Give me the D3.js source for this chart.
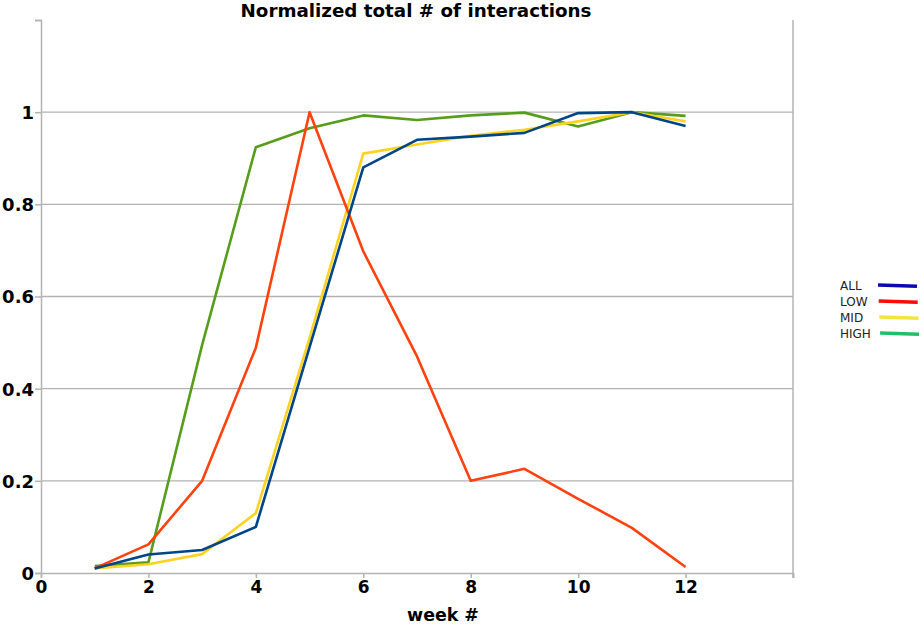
<!DOCTYPE html>
<html>
<head>
<meta charset="utf-8">
<script src="https://cdn.jsdelivr.net/npm/d3@7"></script>
<style>
	body { margin: 0; background: #fff; }
	text { font-family: "DejaVu Sans", sans-serif; }
	.tick_lbl { font-weight: bold; fill: #000; }
</style>
</head>
<body>
<div id="chart"></div>
<script>
var weeks = [1, 2, 3, 4, 5, 6, 7, 8, 9, 10, 11, 12]
var all_vals  = [0.01, 0.04, 0.05, 0.10, 0.49, 0.88, 0.94, 0.947, 0.955, 0.998, 1.0, 0.97]
var low_vals  = [0.01, 0.062, 0.2, 0.489, 1.0, 0.698, 0.47, 0.2, 0.226, 0.161, 0.098, 0.013]
var mid_vals  = [0.01, 0.019, 0.041, 0.13, 0.51, 0.91, 0.93, 0.949, 0.962, 0.98, 1.0, 0.98]
var high_vals = [0.015, 0.023, 0.495, 0.924, 0.965, 0.993, 0.983, 0.993, 0.999, 0.969, 1.0, 0.992]
var x_ticks = [0, 2, 4, 6, 8, 10, 12]
var y_ticks = [0, 0.2, 0.4, 0.6, 0.8, 1]

// drawing order: high, mid, low, all
var series = [
	{ name: "HIGH", vals: high_vals, color: "#579d1c", legend: "#22c064" },
	{ name: "MID",  vals: mid_vals,  color: "#ffd320", legend: "#f3e53c" },
	{ name: "LOW",  vals: low_vals,  color: "#ff420e", legend: "#ff0a0a" },
	{ name: "ALL",  vals: all_vals,  color: "#004586", legend: "#0a0ab4" }
]
var legend_order = ["ALL", "LOW", "MID", "HIGH"]

var margin = {top: 20, left: 41},
    width = 793 - 41,
    height = 573 - 20

var svg = d3.select("#chart")
	.append("svg")
	.attr("width", 921)
	.attr("height", 627)

var g = svg.append("g")
	.attr("transform", "translate(" + margin.left + "," + margin.top + ")")

var x_scale = d3.scaleLinear().range([0, width]).domain([0, 14])
var y_scale = d3.scaleLinear().range([height, 0]).domain([0, 1.2])

// grid
g.selectAll(".grid")
	.data(y_ticks.filter(d => d > 0))
	.enter().append("line")
	.attr("x1", 0).attr("x2", width)
	.attr("y1", d => y_scale(d)).attr("y2", d => y_scale(d))
	.attr("stroke", "#b3b3b3").attr("stroke-width", 1.3)

// axes
const xaxis = d3.axisBottom(x_scale).tickValues([0, 2, 4, 6, 8, 10, 12, 14])
	.tickSize(5).tickFormat(d => x_ticks.indexOf(d) >= 0 ? d : "")
const yaxis = d3.axisLeft(y_scale).tickValues([0, 0.2, 0.4, 0.6, 0.8, 1, 1.2])
	.tickSize(6).tickFormat(d => y_ticks.indexOf(d) >= 0 ? d3.format("")(d) : "")

var gx = g.append("g").attr("transform", "translate(0," + height + ")").call(xaxis)
var gy = g.append("g").call(yaxis)

;[gx, gy].forEach(function (ax) {
	ax.select(".domain").attr("stroke", "#b3b3b3").attr("stroke-width", 1.5)
	ax.selectAll(".tick line").attr("stroke", "#b3b3b3").attr("stroke-width", 1.5)
	ax.selectAll(".tick text").attr("class", "tick_lbl").attr("font-family", null).attr("font-size", null)
})
gx.selectAll(".tick text").attr("dy", null).attr("y", 20).style("font-size", "17px")
gy.selectAll(".tick text").attr("x", -7).attr("dy", "0.36em").style("font-size", "18px")

// right border
g.append("line")
	.attr("x1", width).attr("x2", width)
	.attr("y1", 0).attr("y2", height + 5)
	.attr("stroke", "#b3b3b3").attr("stroke-width", 1.5)

// lines
const line = d3.line()
	.x((d, i) => x_scale(weeks[i]))
	.y(d => y_scale(d))

g.selectAll(".serie")
	.data(series)
	.enter().append("path")
	.attr("d", d => line(d.vals))
	.attr("fill", "none")
	.attr("stroke", d => d.color)
	.attr("stroke-width", 2.6)
	.attr("stroke-linejoin", "round")

// title
svg.append("text")
	.attr("x", 416).attr("y", 17)
	.attr("text-anchor", "middle")
	.style("font-weight", "bold").style("font-size", "18.3px")
	.text("Normalized total # of interactions")

svg.append("text")
	.attr("x", 443).attr("y", 621)
	.attr("text-anchor", "middle")
	.style("font-weight", "bold").style("font-size", "17.4px")
	.text("week #")

// legend
var leg = svg.selectAll(".leg")
	.data(legend_order.map(n => series.find(s => s.name == n)))
	.enter().append("g")
	.attr("transform", (d, i) => "translate(840," + (290 + i * 16) + ")")

leg.append("text")
	.attr("y", 0)
	.style("font-size", "12px").style("fill", "#222")
	.text(d => d.name)

leg.append("line")
	.attr("x1", (d, i) => 38 + i * 0.7).attr("x2", (d, i) => 77 + i * 0.7)
	.attr("y1", -5).attr("y2", -3.8)
	.attr("stroke", d => d.legend).attr("stroke-width", 3.5)
</script>
</body>
</html>
